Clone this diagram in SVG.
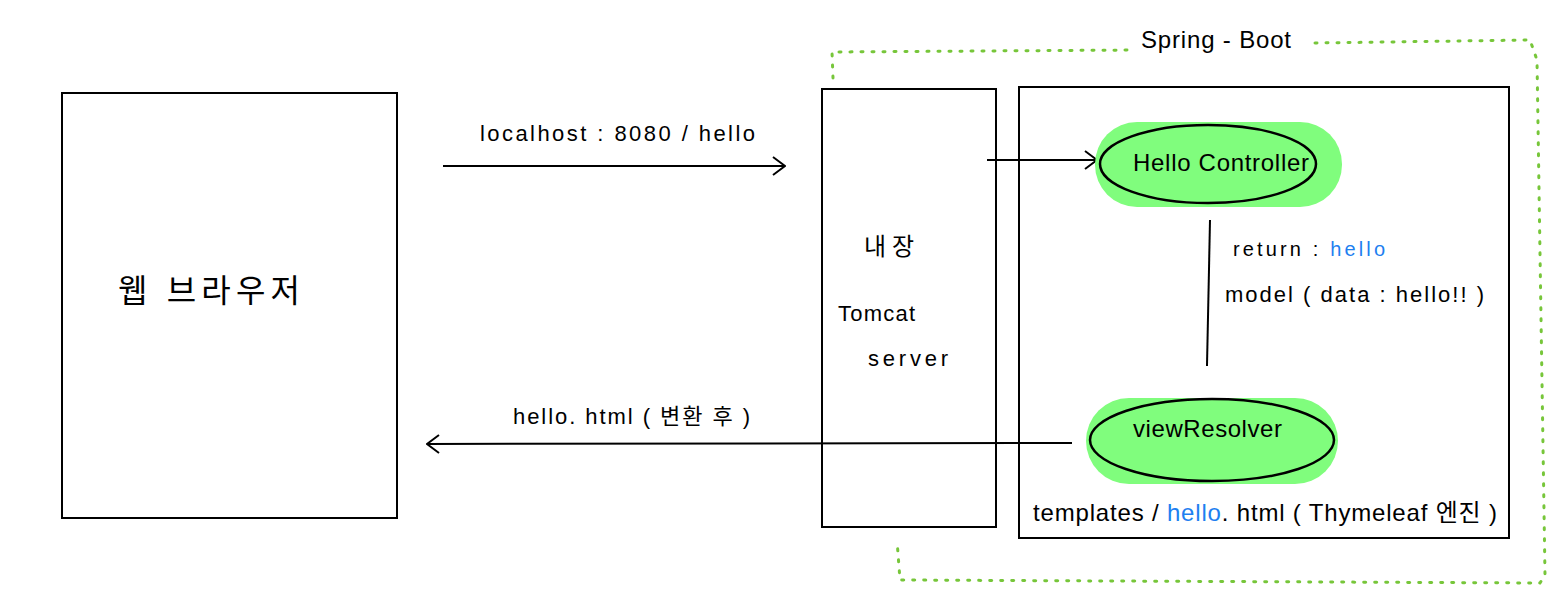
<svg xmlns="http://www.w3.org/2000/svg" width="1563" height="600" viewBox="0 0 1563 600">
<style>
.box{fill:#fff;stroke:#000;stroke-width:2}
.t{font-family:"Liberation Sans","Noto Sans CJK KR",sans-serif;fill:#000}
.blue{fill:#1e7ff0}
.pill{fill:#80fd7d}
.ell{fill:none;stroke:#000;stroke-width:2.5}
.ln{fill:none;stroke:#000;stroke-width:2}
.dot{fill:none;stroke:#77c63a;stroke-width:3;stroke-linecap:round;stroke-dasharray:2 9}
</style>
<defs>
<marker id="ah" viewBox="0 0 14 20" refX="13" refY="10" markerWidth="14" markerHeight="20" markerUnits="userSpaceOnUse" orient="auto">
<path d="M1 1 L13 10 L1 19" fill="none" stroke="#000" stroke-width="2"/>
</marker>
</defs>
<g id="spring-boot-boundary">
<path class="dot" d="M833 78 L832 52 L1135 50"/>
<path class="dot" d="M1315 43 L1530 40 L1537 60 L1545 575 L1540 583 L900 580 L897 540"/>
<text class="t" x="1141" y="48" font-size="24" textLength="150" lengthAdjust="spacing">Spring - Boot</text>
</g>
<g id="web-browser">
<rect class="box" x="62" y="93" width="335" height="425"/>
<text class="t" x="118" y="302" font-size="32" textLength="182" lengthAdjust="spacing">웹  브라우저</text>
</g>
<g id="tomcat">
<rect class="box" x="822" y="89" width="174" height="438"/>
<text class="t" x="864" y="255" font-size="24" textLength="50" lengthAdjust="spacing">내장</text>
<text class="t" x="838" y="321" font-size="22" textLength="77" lengthAdjust="spacing">Tomcat</text>
<text class="t" x="868" y="366" font-size="22" textLength="80" lengthAdjust="spacing">server</text>
</g>
<g id="spring-container">
<rect class="box" x="1019" y="87" width="490" height="451"/>
</g>
<g id="connectors">
<path class="ln" d="M443 166 L785 166" marker-end="url(#ah)"/>
<path class="ln" d="M987 160 L1097 160" marker-end="url(#ah)"/>
<path class="ln" d="M1072 443 L427 444" marker-end="url(#ah)"/>
<path class="ln" d="M1210 220 L1207 366"/>
<text class="t" x="480" y="141" font-size="22" textLength="275" lengthAdjust="spacing">localhost : 8080 / hello</text>
<text class="t" x="513" y="424" font-size="22" textLength="237" lengthAdjust="spacing">hello. html ( 변환 후 )</text>
<text class="t" x="1233" y="256" font-size="20" textLength="152" lengthAdjust="spacing">return : <tspan class="blue">hello</tspan></text>
<text class="t" x="1225" y="302" font-size="22" textLength="259" lengthAdjust="spacing">model ( data : hello!! )</text>
</g>
<g id="hello-controller">
<rect class="pill" x="1095" y="122" width="247" height="85" rx="42"/>
<ellipse class="ell" cx="1208" cy="164" rx="108" ry="39"/>
<text class="t" x="1133" y="171" font-size="24" textLength="176" lengthAdjust="spacing">Hello Controller</text>
</g>
<g id="view-resolver">
<rect class="pill" x="1086" y="398" width="252" height="86" rx="43"/>
<ellipse class="ell" cx="1212" cy="440" rx="122" ry="41"/>
<text class="t" x="1133" y="437" font-size="24" textLength="149" lengthAdjust="spacing">viewResolver</text>
</g>
<g id="templates-label">
<text class="t" x="1033" y="521" font-size="24" textLength="464" lengthAdjust="spacing">templates / <tspan class="blue">hello</tspan>. html ( Thymeleaf 엔진 )</text>
</g>
</svg>
